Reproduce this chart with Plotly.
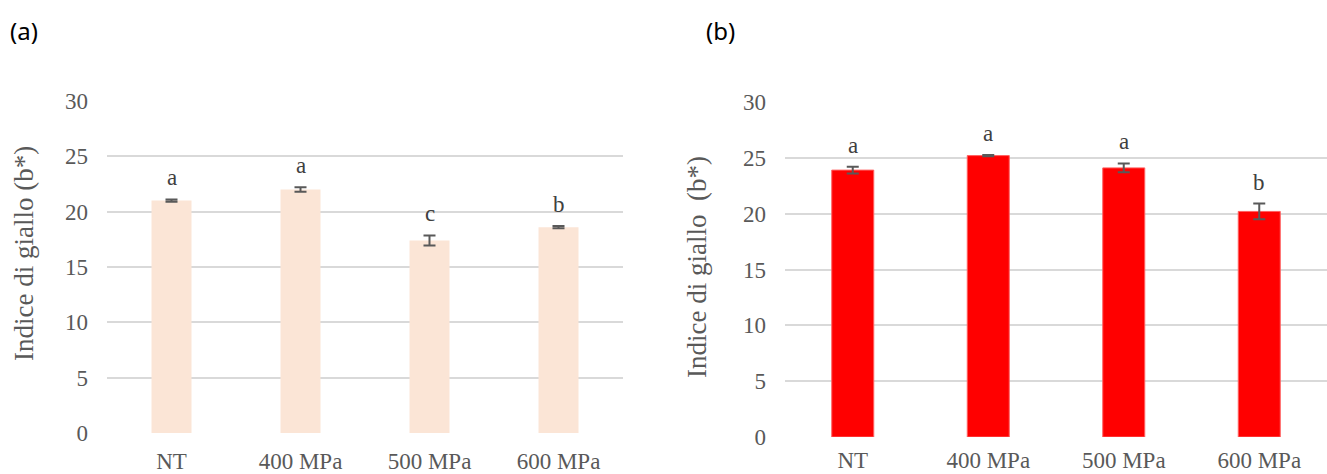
import plotly.graph_objects as go

# Treatment categories
categories = ["NT", "400 MPa", "500 MPa", "600 MPa"]

# Panel (a): yellowness index b* (mean and standard deviation)
b_a = [21.0, 22.0, 17.4, 18.6]
err_a = [0.1, 0.2, 0.45, 0.1]
letters_a = ["a", "a", "c", "b"]

# Panel (b): yellowness index b* (mean and standard deviation)
b_b = [23.9, 25.2, 24.1, 20.2]
err_b = [0.3, 0.05, 0.4, 0.7]
letters_b = ["a", "a", "a", "b"]

y_ticks = [0, 5, 10, 15, 20, 25, 30]

W, H = 1327, 474
SERIF = "Liberation Serif"
GREY = "#595959"
GRID = "#D9D9D9"


def px_x(p):
    return p / W


def px_y(p):
    return 1 - p / H


fig = go.Figure()

fig.add_trace(go.Bar(
    x=categories, y=b_a, width=0.31,
    marker=dict(color="#FBE5D6", line=dict(width=0)),
    error_y=dict(type="data", array=err_a, color=GREY, thickness=2, width=6),
    xaxis="x", yaxis="y", showlegend=False,
))
fig.add_trace(go.Bar(
    x=categories, y=b_b, width=0.31,
    marker=dict(color="#FF0000", line=dict(width=1, color="#FF6060")),
    error_y=dict(type="data", array=err_b, color=GREY, thickness=2, width=6),
    xaxis="x2", yaxis="y2", showlegend=False,
))

annotations = []
# significance letters above each error bar
for xa, ya, vals, errs, lets in (("x", "y", b_a, err_a, letters_a),
                                 ("x2", "y2", b_b, err_b, letters_b)):
    for c, v, e, l in zip(categories, vals, errs, lets):
        annotations.append(dict(
            x=c, y=v + e, xref=xa, yref=ya, text=l, showarrow=False,
            yanchor="bottom", yshift=7,
            font=dict(family=SERIF, size=23, color="#404040"),
        ))

# y-axis titles
annotations.append(dict(
    x=px_x(24), y=px_y(254), xref="paper", yref="paper",
    text="Indice di giallo (b*)", textangle=-90, showarrow=False,
    xanchor="center", yanchor="middle",
    font=dict(family=SERIF, size=27, color=GREY),
))
annotations.append(dict(
    x=px_x(697), y=px_y(267), xref="paper", yref="paper",
    text="Indice di giallo \u00a0(b*)", textangle=-90, showarrow=False,
    xanchor="center", yanchor="middle",
    font=dict(family=SERIF, size=27, color=GREY),
))

# panel labels
for lab, xp in (("(a)", 8), ("(b)", 704)):
    annotations.append(dict(
        x=px_x(xp), y=px_y(31), xref="paper", yref="paper",
        text=lab, showarrow=False, xanchor="left", yanchor="middle",
        font=dict(family="Noto Sans", size=24, color="#000000"),
    ))


def x_axis(domain, anchor, standoff):
    return dict(
        domain=domain, anchor=anchor, type="category",
        showgrid=False, zeroline=False, showline=False, ticks="",
        tickfont=dict(family=SERIF, size=23, color=GREY),
        ticklabelstandoff=standoff, automargin=False, fixedrange=True,
    )


def y_axis(domain, anchor):
    return dict(
        domain=domain, anchor=anchor, range=[0, 30], tickvals=y_ticks,
        showgrid=True, gridcolor=GRID, gridwidth=2, zeroline=False,
        showline=False, ticks="",
        tickfont=dict(family=SERIF, size=23, color=GREY),
        ticklabelstandoff=18, automargin=False, fixedrange=True,
    )


fig.update_layout(
    template="none",
    width=W, height=H,
    margin=dict(l=0, r=0, t=0, b=0, autoexpand=False),
    font=dict(family=SERIF, color=GREY),
    paper_bgcolor="white", plot_bgcolor="white",
    bargap=0.69,
    xaxis=x_axis([px_x(107), px_x(623)], "y", 12),
    yaxis=y_axis([px_y(433), px_y(101)], "x"),
    xaxis2=x_axis([px_x(785), 1.0], "y2", 7),
    yaxis2=y_axis([px_y(437), px_y(102)], "x2"),
    annotations=annotations,
)

fig.write_html("out.html")
